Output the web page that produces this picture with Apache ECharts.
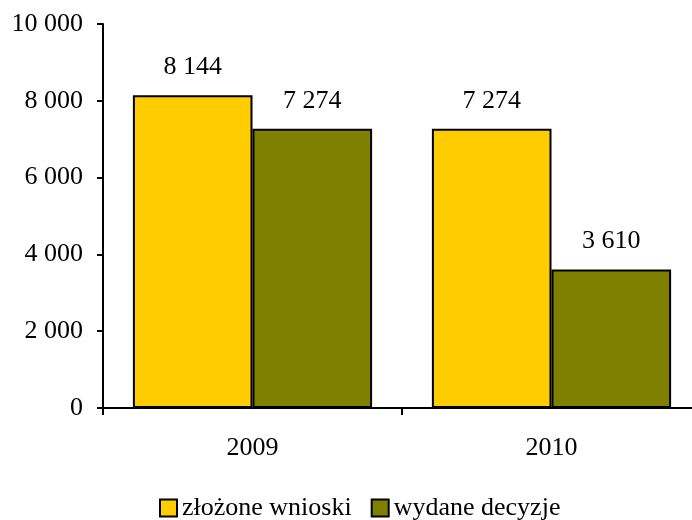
<!DOCTYPE html>
<html>
<head>
<meta charset="utf-8">
<script src="https://cdn.jsdelivr.net/npm/echarts@6/dist/echarts.min.js"></script>
<style>
  html, body { margin: 0; padding: 0; background: #fff; }
  #container { width: 692px; height: 520px; }
</style>
</head>
<body>
<div id="container"></div>
<script>
var years = ['2009', '2010'];
var seriesNames = ['złożone wnioski', 'wydane decyzje'];
var applications = [8144, 7274];
var decisions = [7274, 3610];

function fmt(v) {
    return String(v).replace(/\B(?=(\d{3})+(?!\d))/g, ' ');
}

var font = '"Liberation Serif", "Times New Roman", serif';
var chart = echarts.init(document.getElementById('container'));

var labelOpt = {
    show: true,
    position: 'top',
    distance: 15,
    color: '#000',
    fontFamily: font,
    fontSize: 26,
    formatter: function (p) { return fmt(p.value); }
};

var option = {
    backgroundColor: '#fff',
    animation: false,
    grid: { left: 103, width: 598, top: 24, bottom: 112, containLabel: false, outerBoundsMode: 'none' },
    legend: {
        top: 495,
        left: 159,
        padding: 0,
        itemWidth: 17,
        itemHeight: 17,
        itemGap: 19,
        icon: 'rect',
        textStyle: { fontFamily: font, fontSize: 26, color: '#000' },
        data: seriesNames
    },
    xAxis: {
        type: 'category',
        data: years,
        axisLine: { lineStyle: { color: '#000', width: 2 } },
        axisTick: { show: true, length: 7, lineStyle: { color: '#000', width: 2 } },
        axisLabel: { color: '#000', fontFamily: font, fontSize: 26, margin: 27 }
    },
    yAxis: {
        type: 'value',
        min: 0,
        max: 10000,
        interval: 2000,
        splitLine: { show: false },
        axisLine: { show: true, lineStyle: { color: '#000', width: 2 } },
        axisTick: { show: true, length: 6, lineStyle: { color: '#000', width: 2 } },
        axisLabel: {
            color: '#000', fontFamily: font, fontSize: 26, margin: 20,
            formatter: function (v) { return fmt(v); }
        }
    },
    series: [
        {
            name: seriesNames[0],
            type: 'bar',
            data: applications,
            barGap: '0%',
            barCategoryGap: '20%',
            itemStyle: { color: '#FFCC00', borderColor: '#000', borderWidth: 2 },
            label: labelOpt
        },
        {
            name: seriesNames[1],
            type: 'bar',
            data: decisions,
            itemStyle: { color: '#808000', borderColor: '#000', borderWidth: 2 },
            label: labelOpt
        }
    ]
};

chart.setOption(option);
</script>
</body>
</html>
